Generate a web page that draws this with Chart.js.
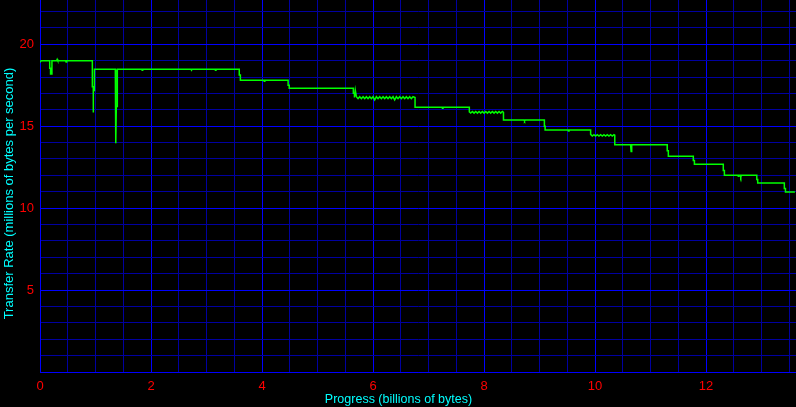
<!DOCTYPE html>
<html>
<head>
<meta charset="utf-8">
<script src="https://cdn.jsdelivr.net/npm/chart.js@4/dist/chart.umd.min.js"></script>
<style>
  html, body { margin: 0; padding: 0; background: #000; }
  canvas { display: block; }
</style>
</head>
<body>
<canvas id="c" width="796" height="407"></canvas>
<script>
const xTitle = "Progress (billions of bytes)";
const yTitle = "Transfer Rate (millions of bytes per second)";
const xTickLabels = ["0", "2", "4", "6", "8", "10", "12"];
const yTickLabels = ["5", "10", "15", "20"];

const progress = [
  0, 0.02, 0.175, 0.175, 0.19, 0.19, 0.215, 0.215, 0.30, 0.31, 0.32, 0.46, 0.47, 0.48,
  0.943, 0.943, 0.96, 0.96, 0.962, 0.98, 0.98,
  1.357, 1.357, 1.369, 1.369, 1.375, 1.393, 1.393,
  1.83, 1.84, 1.85, 2.72, 2.73, 2.74, 3.15, 3.16, 3.17,
  3.59, 3.59, 3.61, 3.61, 4.03, 4.04, 4.05,
  4.47, 4.47, 4.49, 4.49,
  5.645, 5.645, 5.665, 5.665, 5.68, 5.70,
  5.73, 5.76, 5.79, 5.82, 5.85, 5.88, 5.91, 5.94, 5.97, 6.00, 6.03, 6.06, 6.09, 6.12, 6.15, 6.18, 6.21,
  6.24, 6.27, 6.30, 6.33, 6.36, 6.39, 6.42, 6.45, 6.48, 6.51, 6.54, 6.57, 6.60, 6.63, 6.66, 6.69, 6.72,
  6.757, 6.757, 7.24, 7.25, 7.26, 7.735, 7.735,
  7.76, 7.79, 7.82, 7.85, 7.88, 7.91, 7.94, 7.97, 8.00, 8.03, 8.06, 8.09, 8.12, 8.15, 8.18, 8.21,
  8.24, 8.27, 8.30, 8.33,
  8.35, 8.35, 8.72, 8.73, 8.74, 9.087, 9.087, 9.10, 9.10,
  9.51, 9.52, 9.53, 9.92, 9.92,
  9.95, 9.98, 10.01, 10.04, 10.07, 10.10, 10.13, 10.16, 10.19, 10.22, 10.25, 10.28, 10.31, 10.34,
  10.355, 10.355, 10.64, 10.65, 10.66,
  11.30, 11.30, 11.32, 11.32,
  11.77, 11.77, 11.79, 11.79,
  12.31, 12.31, 12.33, 12.33,
  12.57, 12.58, 12.59, 12.615, 12.625, 12.635,
  12.914, 12.914, 12.93, 12.93,
  13.41, 13.41, 13.43, 13.43, 13.6
];
const rate = [
  18.9, 19.0, 19.0, 18.54, 18.54, 18.19, 18.19, 19.0, 19.0, 19.08, 19.0, 19.0, 18.92, 19.0,
  19.0, 17.41, 17.41, 15.83, 17.17, 17.17, 18.48,
  18.48, 16.2, 16.2, 13.96, 16.2, 16.2, 18.48,
  18.48, 18.42, 18.48, 18.48, 18.42, 18.48, 18.48, 18.42, 18.48,
  18.48, 18.13, 18.13, 17.8, 17.8, 17.74, 17.8,
  17.8, 17.5, 17.5, 17.32,
  17.32, 17.01, 17.01, 16.75, 17.2, 16.8,
  16.68, 16.8, 16.68, 16.8, 16.68, 16.8, 16.68, 16.8, 16.68, 16.8, 16.6, 16.8, 16.68, 16.8, 16.68, 16.8, 16.68,
  16.8, 16.68, 16.8, 16.68, 16.8, 16.6, 16.8, 16.68, 16.8, 16.68, 16.8, 16.68, 16.8, 16.68, 16.8, 16.68, 16.8,
  16.75, 16.16, 16.16, 16.1, 16.16, 16.16, 15.87,
  15.8, 15.9, 15.8, 15.9, 15.8, 15.9, 15.8, 15.9, 15.8, 15.9, 15.8, 15.9, 15.8, 15.9, 15.8, 15.9,
  15.8, 15.9, 15.8, 15.9,
  15.85, 15.37, 15.37, 15.31, 15.37, 15.37, 15.0, 15.0, 14.76,
  14.76, 14.7, 14.76, 14.76, 14.5,
  14.4, 14.48, 14.4, 14.48, 14.4, 14.48, 14.4, 14.48, 14.4, 14.48, 14.4, 14.48, 14.4, 14.48,
  14.45, 13.86, 13.86, 13.45, 13.86,
  13.86, 13.5, 13.5, 13.17,
  13.17, 12.9, 12.9, 12.68,
  12.68, 12.3, 12.3, 12.01,
  12.01, 11.95, 12.01, 12.01, 11.89, 12.01,
  12.01, 11.75, 11.75, 11.54,
  11.54, 11.2, 11.2, 10.98, 10.98
];

const points = progress.map((x, i) => ({ x: x, y: rate[i] }));

const MAJOR = "rgb(0,0,255)";
const MINOR = "rgb(0,0,160)";
const isMult = (v, m) => Math.abs(v / m - Math.round(v / m)) < 1e-6;

const bgPlugin = {
  id: "bg",
  beforeDraw(chart) {
    const ctx = chart.ctx;
    ctx.save();
    ctx.fillStyle = "#000";
    ctx.fillRect(0, 0, chart.width, chart.height);
    ctx.restore();
  }
};
const titlePlugin = {
  id: "titles",
  afterDraw(chart) {
    const ctx = chart.ctx;
    ctx.save();
    ctx.fillStyle = "#00FFFF";
    ctx.textAlign = "center";
    ctx.textBaseline = "middle";
    ctx.font = '12.5px "Liberation Sans", Arial, sans-serif';
    ctx.fillText(xTitle, 398.5, 399.5);
    ctx.translate(9.5, 193.5);
    ctx.rotate(-Math.PI / 2);
    ctx.font = '13px "Liberation Sans", Arial, sans-serif';
    ctx.fillText(yTitle, 0, 0);
    ctx.restore();
  }
};

new Chart(document.getElementById("c"), {
  type: "line",
  data: {
    datasets: [{
      data: points,
      borderColor: "#00FF00",
      borderWidth: 1.5,
      pointRadius: 0,
      tension: 0,
      fill: false
    }]
  },
  options: {
    responsive: false,
    devicePixelRatio: 1,
    animation: false,
    layout: { padding: 0 },
    plugins: { legend: { display: false }, tooltip: { enabled: false } },
    scales: {
      x: {
        type: "linear",
        min: 0,
        max: 13.62,
        afterFit(s) { s.height = 35; s.paddingLeft = 0; s.paddingRight = 0; },
        border: { color: MAJOR, width: 1 },
        grid: {
          drawTicks: false,
          lineWidth: 1,
          color: (c) => isMult(c.tick.value, 2) ? MAJOR : MINOR
        },
        ticks: {
          stepSize: 0.5,
          autoSkip: false,
          includeBounds: false,
          maxRotation: 0,
          padding: 7,
          color: "#FF0000",
          font: { family: '"Liberation Sans", Arial, sans-serif', size: 13 },
          callback: (v) => xTickLabels.includes(String(v)) ? String(v) : ""
        }
      },
      y: {
        type: "linear",
        min: 0,
        max: 22.7,
        afterFit(s) { s.width = 40; s.paddingTop = 0; s.paddingBottom = 0; },
        border: { color: MAJOR, width: 1 },
        grid: {
          drawTicks: false,
          lineWidth: 1,
          color: (c) => isMult(c.tick.value, 5) ? MAJOR : MINOR
        },
        ticks: {
          stepSize: 1,
          autoSkip: false,
          includeBounds: false,
          padding: 6,
          color: "#FF0000",
          font: { family: '"Liberation Sans", Arial, sans-serif', size: 13 },
          callback: (v) => yTickLabels.includes(String(v)) ? String(v) : ""
        }
      }
    }
  },
  plugins: [bgPlugin, titlePlugin]
});
</script>
</body>
</html>
